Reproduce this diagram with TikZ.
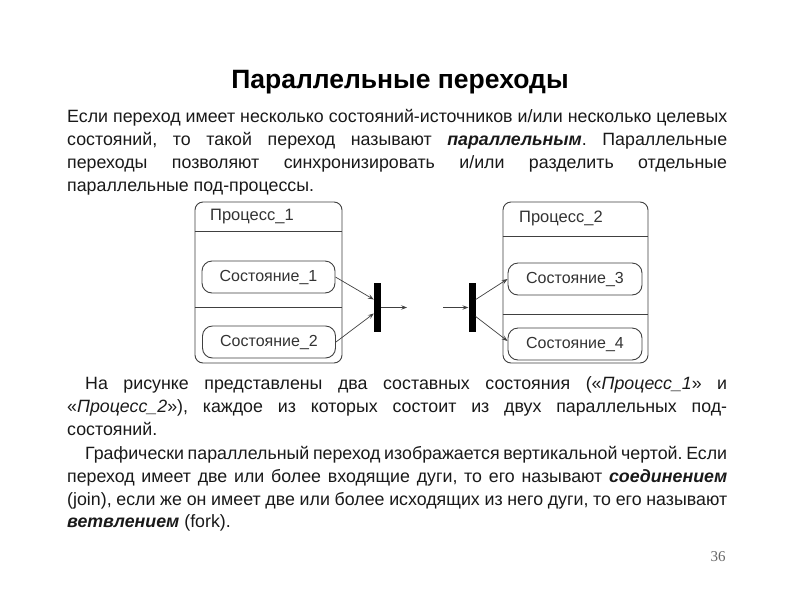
\documentclass[tikz,border=0pt]{standalone}
\usepackage{fontspec}
\setmainfont{Liberation Sans}
\newfontfamily\numfont{Liberation Serif}
\usetikzlibrary{arrows.meta,calc}
\frenchspacing
\begin{document}
\begin{tikzpicture}[x=1pt,y=-1pt,
  bodyline/.style={anchor=base west, inner sep=0pt, text=black!90, font=\fontsize{17.8}{20}\selectfont},
  procbox/.style={draw=black!75, line width=0.9pt, rounded corners=8pt, minimum width=#1, minimum height=161pt, inner sep=0pt},
  statebox/.style={draw=black!75, line width=0.9pt, rounded corners=10pt, minimum width=133pt, minimum height=32pt, inner sep=0pt, text=black!80, font=\fontsize{16}{18}\selectfont},
  proclabel/.style={anchor=west, inner sep=0pt, text=black!80, font=\fontsize{16.5}{18}\selectfont},
  divline/.style={draw=black!75, line width=0.9pt},
  syncbar/.style={fill=black, draw=none, minimum width=7pt, minimum height=49pt, inner sep=0pt},
  flow/.style={draw=black!75, line width=0.7pt, -{Stealth[length=6pt,width=4.5pt,inset=2.5pt]}}
]
\useasboundingbox (0,0) rectangle (800,600);
\fill[white] (0,0) rectangle (800,600);

% title
\node[anchor=base, inner sep=0pt, font=\fontsize{26.5}{30}\selectfont\bfseries] (title) at (400,88) {Параллельные переходы};

% paragraph 1
\node[bodyline] (a1) at (67,122) {\makebox[660pt][s]{Если переход имеет несколько состояний-источников и/или несколько целевых}};
\node[bodyline] (a2) at (67,145) {\makebox[660pt][s]{состояний, то такой переход называют \textbf{\textit{параллельным}}. Параллельные}};
\node[bodyline] (a3) at (67,168) {\makebox[660pt][s]{переходы позволяют синхронизировать и/или разделить отдельные}};
\node[bodyline] (a4) at (67,191) {параллельные под-процессы.};

% paragraph 2
\node[bodyline] (b1) at (85,389) {\makebox[642pt][s]{На рисунке представлены два составных состояния («\textit{Процесс\_1}» и}};
\node[bodyline] (b2) at (67,412) {\makebox[660pt][s]{«\textit{Процесс\_2}»), каждое из которых состоит из двух параллельных под-}};
\node[bodyline] (b3) at (67,435) {состояний.};

% paragraph 3
\node[bodyline] (c1) at (85,459) {\makebox[642pt][s]{Графически параллельный переход изображается вертикальной чертой. Если}};
\node[bodyline] (c2) at (67,482) {\makebox[660pt][s]{переход имеет две или более входящие дуги, то его называют \textbf{\textit{соединением}}}};
\node[bodyline] (c3) at (67,505) {\makebox[660pt][s]{(join), если же он имеет две или более исходящих из него дуги, то его называют}};
\node[bodyline] (c4) at (67,527) {\textbf{\textit{ветвлением}} (fork).};

% page number
\node[inner sep=0pt, text=black!60, font=\fontsize{15}{17}\selectfont\numfont] (pnum) at (718,557) {36};

% process 1
\node[procbox=147pt] (p1) at (268.5,282.5) {};
\draw[divline] (p1.west |- 0,231) -- (p1.east |- 0,231);
\draw[divline] (p1.west |- 0,307) -- (p1.east |- 0,307);
\node[proclabel] (p1lab) at (210,217) {Процесс\_1};
\node[statebox] (s1) at (268.5,277) {Состояние\_1};
\node[statebox] (s2) at (269,342) {Состояние\_2};

% process 2
\node[procbox=145pt] (p2) at (575.5,282.5) {};
\draw[divline] (p2.west |- 0,236) -- (p2.east |- 0,236);
\draw[divline] (p2.west |- 0,314) -- (p2.east |- 0,314);
\node[proclabel] (p2lab) at (519,218) {Процесс\_2};
\node[statebox, minimum width=134pt] (s3) at (575,279) {Состояние\_3};
\node[statebox, minimum width=134pt] (s4) at (575,344) {Состояние\_4};

% sync bars
\node[syncbar] (bar1) at (377.5,307.5) {};
\node[syncbar] (bar2) at (472,307.5) {};
\coordinate (o1) at (407,307.5);
\coordinate (i2) at (443,307.5);

\draw[flow] (s1.east) -- ([yshift=8pt]bar1.west);
\draw[flow] (s2.east) -- ([yshift=-6pt]bar1.west);
\draw[flow] (bar1.east) -- (o1);
\draw[flow] (i2) -- (bar2.west);
\draw[flow] ([yshift=8pt]bar2.east) -- (s3.west);
\draw[flow] ([yshift=-9pt]bar2.east) -- ([yshift=3pt]s4.west);
\end{tikzpicture}
\end{document}
